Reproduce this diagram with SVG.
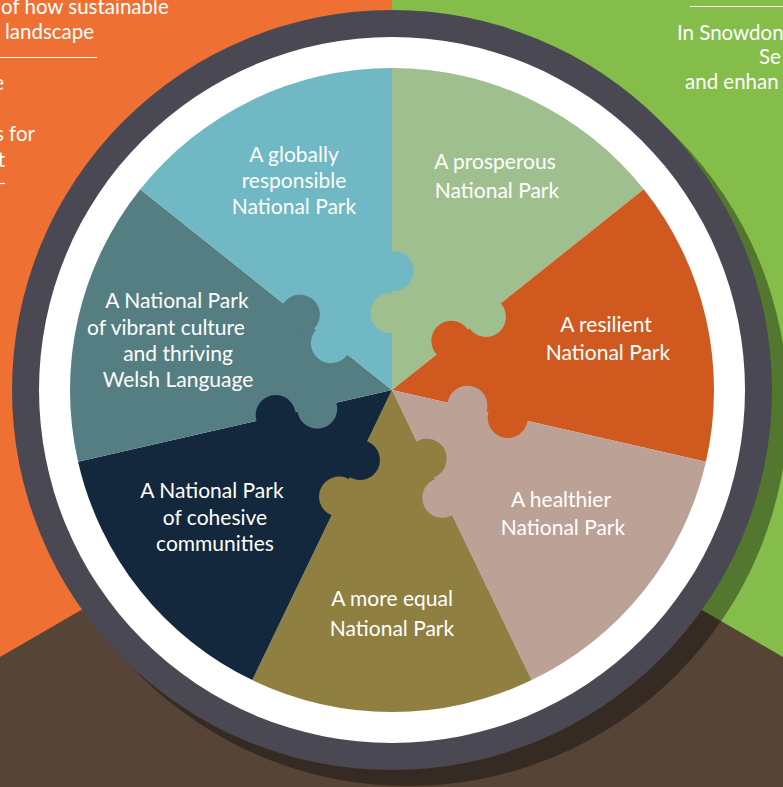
<svg xmlns="http://www.w3.org/2000/svg" width="783" height="787" viewBox="0 0 783 787">
<style>
.lbl{font-family:Lato,"Open Sans","Liberation Sans",sans-serif;font-size:21px;fill:#fff;text-anchor:middle}
.side{font-family:Lato,"Open Sans","Liberation Sans",sans-serif;font-size:20.5px;fill:#fff}
</style>
<defs>
<g id="knobpair">
<circle cx="393.5" cy="271" r="20"/>
<circle cx="390.5" cy="313" r="20"/>
</g>
</defs>
<g id="background">
<rect x="0" y="0" width="392" height="787" fill="#ef7033"/>
<rect x="392" y="0" width="391" height="787" fill="#84bd4a"/>
<polygon points="0,657 392,430 783,657 783,787 0,787" fill="#564436"/>
<line x1="0" y1="57.5" x2="97" y2="57.5" stroke="#fff" stroke-width="1.2"/>
<line x1="0" y1="183.5" x2="5" y2="183.5" stroke="#fff" stroke-width="1.2"/>
<line x1="690" y1="6.5" x2="783" y2="6.5" stroke="#fff" stroke-width="1.2"/>
<text class="side" x="1" y="14">of how sustainable</text>
<text class="side" x="5" y="39">landscape</text>
<text class="side" x="4" y="90" text-anchor="end">e</text>
<text class="side" x="35" y="141" text-anchor="end">s for</text>
<text class="side" x="5" y="167" text-anchor="end">t</text>
<text class="side" x="677" y="40">In Snowdon</text>
<text class="side" x="759" y="64">Se</text>
<text class="side" x="685" y="89">and enhan</text>
</g>
<g id="frame">
<circle cx="408" cy="406" r="380" fill="#000" opacity="0.37"/>
<circle cx="392" cy="390" r="380" fill="#4a4953"/>
<circle cx="392" cy="390" r="353" fill="#fff"/>
</g>
<g id="n-prosperous">
<path d="M392,390 L392,68 A322,322 0 0 1 643.75,189.24 Z" fill="#9fbf8f"/>
<text class="lbl" x="495" y="169">A prosperous</text>
<text class="lbl" x="497" y="198">National Park</text>
</g>
<g id="n-resilient">
<path d="M392,390 L643.75,189.24 A322,322 0 0 1 705.93,461.65 Z" fill="#d05920"/>
<text class="lbl" x="606" y="332">A resilient</text>
<text class="lbl" x="608" y="360">National Park</text>
</g>
<g id="n-healthier">
<path d="M392,390 L705.93,461.65 A322,322 0 0 1 531.71,680.11 Z" fill="#bca196"/>
<text class="lbl" x="561" y="507">A healthier</text>
<text class="lbl" x="563" y="535">National Park</text>
</g>
<g id="n-equal">
<path d="M392,390 L531.71,680.11 A322,322 0 0 1 252.29,680.11 Z" fill="#8f7f41"/>
<text class="lbl" x="392" y="606">A more equal</text>
<text class="lbl" x="392" y="636">National Park</text>
</g>
<g id="n-cohesive">
<path d="M392,390 L252.29,680.11 A322,322 0 0 1 78.07,461.65 Z" fill="#13283d"/>
<text class="lbl" x="212" y="498">A National Park</text>
<text class="lbl" x="215" y="525">of cohesive</text>
<text class="lbl" x="215" y="551">communities</text>
</g>
<g id="n-culture">
<path d="M392,390 L78.07,461.65 A322,322 0 0 1 140.25,189.24 Z" fill="#557e83"/>
<text class="lbl" x="177" y="308">A National Park</text>
<text class="lbl" x="166" y="335">of vibrant culture</text>
<text class="lbl" x="178" y="361">and thriving</text>
<text class="lbl" x="178" y="387">Welsh Language</text>
</g>
<g id="n-global">
<path d="M392,390 L140.25,189.24 A322,322 0 0 1 392,68 Z" fill="#6fb8c4"/>
<text class="lbl" x="294" y="162">A globally</text>
<text class="lbl" x="294" y="188">responsible</text>
<text class="lbl" x="294" y="214">National Park</text>
</g>
<g id="knobs">
<g transform="rotate(0 392 390)"><circle cx="393.5" cy="271" r="20" fill="#6fb8c4"/><circle cx="390.5" cy="313" r="20" fill="#9fbf8f"/></g>
<g transform="rotate(51.4286 392 390)"><circle cx="393.5" cy="271" r="20" fill="#9fbf8f"/><circle cx="390.5" cy="313" r="20" fill="#d05920"/></g>
<g transform="rotate(102.8571 392 390)"><circle cx="393.5" cy="271" r="20" fill="#d05920"/><circle cx="390.5" cy="313" r="20" fill="#bca196"/></g>
<g transform="rotate(154.2857 392 390)"><circle cx="393.5" cy="271" r="20" fill="#bca196"/><circle cx="390.5" cy="313" r="20" fill="#8f7f41"/></g>
<g transform="rotate(205.7143 392 390)"><circle cx="393.5" cy="271" r="20" fill="#8f7f41"/><circle cx="390.5" cy="313" r="20" fill="#13283d"/></g>
<g transform="rotate(257.1429 392 390)"><circle cx="393.5" cy="271" r="20" fill="#13283d"/><circle cx="390.5" cy="313" r="20" fill="#557e83"/></g>
<g transform="rotate(308.5714 392 390)"><circle cx="393.5" cy="271" r="20" fill="#557e83"/><circle cx="390.5" cy="313" r="20" fill="#6fb8c4"/></g>
</g>
</svg>
